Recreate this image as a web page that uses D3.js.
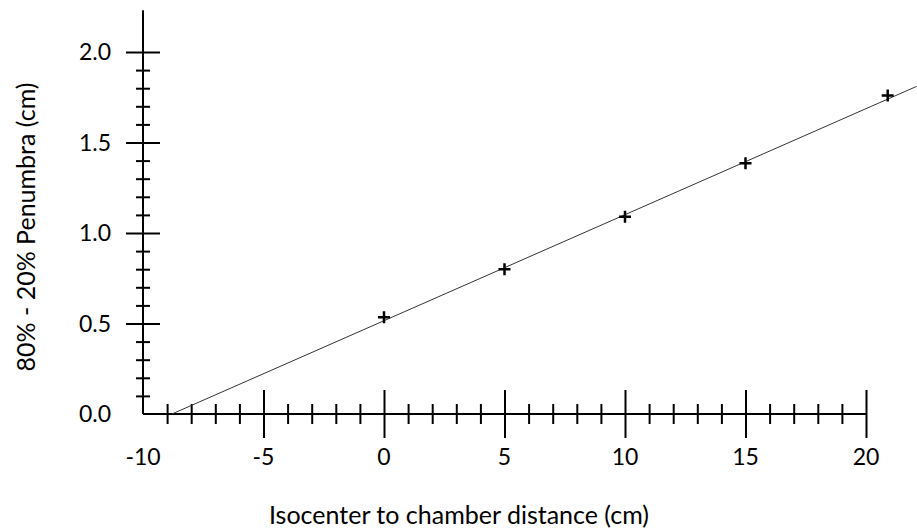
<!DOCTYPE html>
<html><head><meta charset="utf-8">
<script src="https://cdn.jsdelivr.net/npm/d3@7"></script>
<style>html,body{margin:0;padding:0;background:#fff;}svg{display:block;}</style>
</head><body>
<svg id="chart" width="917" height="531"></svg>
<script>
// Data
const distance = [0, 5, 10, 15, 20.9];
const penumbra = [0.535, 0.80, 1.09, 1.385, 1.76];
const fitX = [-8.8, 22.1];
const fitY = [0, 1.81];
const xMajorTicks = [-10, -5, 0, 5, 10, 15, 20];
const xMinorTicks = [-9,-8,-7,-6,-4,-3,-2,-1,1,2,3,4,6,7,8,9,11,12,13,14,16,17,18,19];
const yMajorTicks = [0, 0.5, 1.0, 1.5, 2.0];
const yMinorTicks = [0.1,0.2,0.3,0.4,0.6,0.7,0.8,0.9,1.1,1.2,1.3,1.4,1.6,1.7,1.8,1.9];
const xTitle = "Isocenter to chamber distance (cm)";
const yTitle = "80% - 20% Penumbra (cm)";

const svg = d3.select("#chart");
const font = "Lato, 'Open Sans', sans-serif";
const x = d3.scaleLinear().domain([-10, 20]).range([143, 866]);
const y = d3.scaleLinear().domain([0, 2]).range([414, 52]);

// X axis line
svg.append("line").attr("x1", x(-10)).attr("x2", x(20)).attr("y1", y(0)).attr("y2", y(0))
  .attr("stroke", "#000").attr("stroke-width", 2);
// Y axis line
svg.append("line").attr("x1", x(-10)).attr("x2", x(-10)).attr("y1", y(0)).attr("y2", y(2.23))
  .attr("stroke", "#000").attr("stroke-width", 2);

function styleAxis(g) {
  g.select(".domain").remove();
  g.selectAll(".tick line").attr("stroke", "#000").attr("stroke-width", 2);
}

const xAt = `translate(0,${y(0)})`;
const majX = xMajorTicks.filter(v => v !== -10);
svg.append("g").attr("transform", xAt)
  .call(d3.axisBottom(x).tickValues(majX).tickSize(24).tickFormat(() => "")).call(styleAxis);
svg.append("g").attr("transform", xAt)
  .call(d3.axisTop(x).tickValues(majX).tickSize(24).tickFormat(() => "")).call(styleAxis);
svg.append("g").attr("transform", xAt)
  .call(d3.axisBottom(x).tickValues(xMinorTicks).tickSize(10).tickFormat(() => "")).call(styleAxis);
svg.append("g").attr("transform", xAt)
  .call(d3.axisTop(x).tickValues(xMinorTicks).tickSize(10).tickFormat(() => "")).call(styleAxis);
// X labels
svg.append("g").selectAll("text").data(xMajorTicks).join("text")
  .attr("x", d => x(d)).attr("y", 457).attr("dy", "0.35em")
  .attr("text-anchor", "middle").attr("font-family", font).attr("font-size", 23)
  .text(d => d);

const yAt = `translate(${x(-10)},0)`;
const majY = yMajorTicks.filter(v => v !== 0);
svg.append("g").attr("transform", yAt)
  .call(d3.axisLeft(y).tickValues(majY).tickSize(17).tickFormat(() => "")).call(styleAxis);
svg.append("g").attr("transform", yAt)
  .call(d3.axisRight(y).tickValues(majY).tickSize(17).tickFormat(() => "")).call(styleAxis);
svg.append("g").attr("transform", yAt)
  .call(d3.axisLeft(y).tickValues(yMinorTicks).tickSize(7).tickFormat(() => "")).call(styleAxis);
svg.append("g").attr("transform", yAt)
  .call(d3.axisRight(y).tickValues(yMinorTicks).tickSize(7).tickFormat(() => "")).call(styleAxis);
// Y labels
svg.append("g").selectAll("text").data(yMajorTicks).join("text")
  .attr("x", 111).attr("y", d => y(d)).attr("dy", "0.35em")
  .attr("text-anchor", "end").attr("font-family", font).attr("font-size", 23)
  .text(d => d3.format(".1f")(d));

// Titles
svg.append("text").attr("x", 459).attr("y", 515).attr("dy", "0.35em")
  .attr("text-anchor", "middle").attr("font-family", font).attr("font-size", 25)
  .text(xTitle);
svg.append("text").attr("transform", "translate(26,227) rotate(-90)").attr("dy", "0.35em")
  .attr("text-anchor", "middle").attr("font-family", font).attr("font-size", 25)
  .text(yTitle);

// Fit line
const line = d3.line().x(d => x(d[0])).y(d => y(d[1]));
svg.append("path").datum(fitX.map((v, i) => [v, fitY[i]]))
  .attr("d", line).attr("fill", "none").attr("stroke", "#333").attr("stroke-width", 1);

// Plus markers
const pts = distance.map((v, i) => [v, penumbra[i]]);
svg.append("g").selectAll("path").data(pts).join("path")
  .attr("d", d => { const cx = x(d[0]), cy = y(d[1]);
    return `M${cx-6},${cy}H${cx+6}M${cx},${cy-6}V${cy+6}`; })
  .attr("stroke", "#000").attr("stroke-width", 2.5).attr("fill", "none");
</script>
</body></html>
